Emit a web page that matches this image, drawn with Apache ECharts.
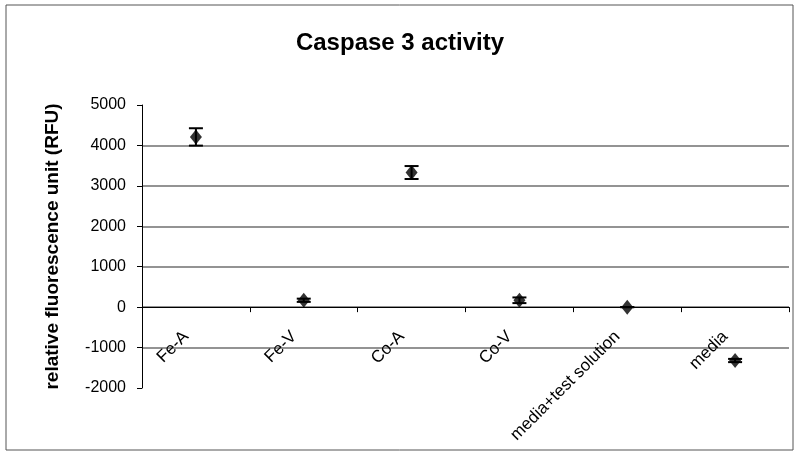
<!DOCTYPE html>
<html>
<head>
<meta charset="utf-8">
<script src="https://cdn.jsdelivr.net/npm/echarts@6/dist/echarts.min.js"></script>
<style>
  html, body { margin: 0; padding: 0; background: #fff; }
  #chart { width: 800px; height: 456px; }
</style>
</head>
<body>
<div id="chart"></div>
<script>
// values
var categories = ["Fe-A", "Fe-V", "Co-A", "Co-V", "media+test solution", "media"];
var means = [4210, 170, 3330, 170, 0, -1320];
var errors = [215, 40, 160, 70, 0, 40];
var yTicks = [-2000, -1000, 0, 1000, 2000, 3000, 4000, 5000];

var font = "Liberation Sans, Arial, sans-serif";
var grid = "#6f6f6f";

var chart = echarts.init(document.getElementById("chart"));

var errData = means.map(function (m, i) {
  return [i, m - errors[i], m + errors[i]];
});

chart.setOption({
  animation: false,
  textStyle: { fontFamily: font },
  title: {
    text: "Caspase 3 activity",
    left: "center",
    top: 26,
    textStyle: { fontSize: 24, fontWeight: "bold", color: "#000", fontFamily: font }
  },
  graphic: [{
    type: "rect",
    shape: { x: 6, y: 5, width: 787, height: 445 },
    style: { fill: null, stroke: "#555", lineWidth: 1 },
    silent: true
  }],
  grid: { left: 142, right: 11, top: 105, bottom: 68, outerBoundsMode: "none" },
  xAxis: {
    type: "category",
    data: categories,
    boundaryGap: true,
    axisLine: { onZero: true, lineStyle: { color: "#000", width: 1 } },
    axisTick: { show: true, inside: false, length: 5, lineStyle: { color: "#000" } },
    axisLabel: {
      rotate: 45,
      margin: -64,
      padding: [0, 14, 0, 0],
      fontSize: 17,
      color: "#000",
      fontFamily: font,
      interval: 0
    },
    splitLine: { show: false }
  },
  yAxis: {
    type: "value",
    min: yTicks[0],
    max: yTicks[yTicks.length - 1],
    interval: 1000,
    name: "relative fluorescence unit (RFU)",
    nameLocation: "middle",
    nameGap: 80,
    nameTextStyle: { fontSize: 19, fontWeight: "bold", color: "#000", fontFamily: font },
    axisLine: { show: true, lineStyle: { color: "#000", width: 1 } },
    axisTick: { show: true, inside: false, length: 5, lineStyle: { color: "#000" } },
    axisLabel: {
      fontSize: 16,
      color: "#000",
      margin: 16,
      fontFamily: font,
      formatter: function (v) { return String(v); }
    },
    splitLine: {
      show: true,
      lineStyle: {
        color: yTicks.map(function (t, i) {
          return (i === 0 || i === yTicks.length - 1) ? "transparent" : grid;
        }),
        width: 1.5
      }
    }
  },
  series: [
    {
      type: "custom",
      data: errData,
      z: 3,
      renderItem: function (params, api) {
        var x = api.value(0);
        var lo = api.coord([x, api.value(1)]);
        var hi = api.coord([x, api.value(2)]);
        var w = 7;
        var st = { stroke: "#000", lineWidth: 2 };
        return {
          type: "group",
          children: [
            { type: "line", shape: { x1: lo[0], y1: lo[1], x2: hi[0], y2: hi[1] }, style: st },
            { type: "line", shape: { x1: hi[0] - w, y1: hi[1], x2: hi[0] + w, y2: hi[1] }, style: st },
            { type: "line", shape: { x1: lo[0] - w, y1: lo[1], x2: lo[0] + w, y2: lo[1] }, style: st }
          ]
        };
      }
    },
    {
      type: "scatter",
      data: means,
      symbol: "diamond",
      symbolSize: [12, 15],
      itemStyle: { color: "#000" },
      z: 4
    }
  ]
});
</script>
</body>
</html>
